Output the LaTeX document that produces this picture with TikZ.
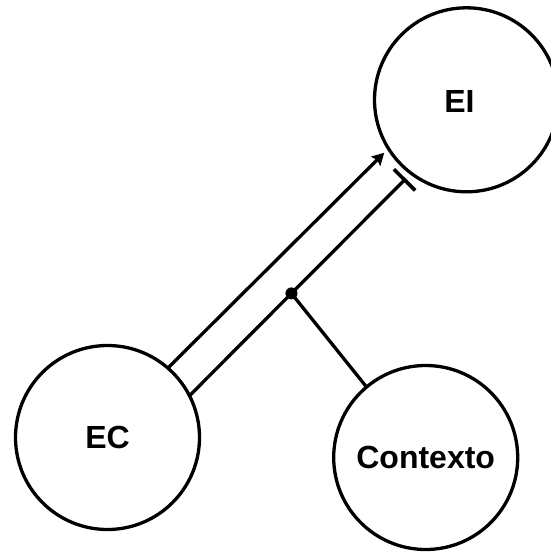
\documentclass[tikz,border=0pt]{standalone}
\usepackage{fontspec}
\setmainfont{Liberation Sans}
\usetikzlibrary{arrows.meta,calc}
\begin{document}
\begin{tikzpicture}[x=1pt,y=-1pt,
  state/.style={circle,draw=black,line width=3.3pt,minimum size=184pt,inner sep=0pt,outer sep=0pt},
  lbl/.style={font=\fontsize{32}{38}\selectfont\bfseries},
  conn/.style={line width=3.3pt,draw=black}]
\useasboundingbox (0,0) rectangle (551,554);
\node[state] (EI) at (466.5,99.8) {};
\node[lbl] (EIt) at (459.4,101.5) {EI};
\node[state,lbl] (EC) at (107.5,437.5) {EC};
\node[state,lbl] (CT) at (425.7,457.5) {Contexto};
\draw[conn,-{Stealth[length=12pt,width=13pt,inset=2pt]},shorten >=6pt] (EC.49.5) -- (EI.212.5);
\draw[conn,-{Rectangle[width=30pt,length=3.6pt]},shorten >=7.5pt] (EC.27.6) -- (EI.233.7);
\coordinate (J) at ($(EC.27.6)!0.46!(EI.233.7)$);
\draw[conn] (J) -- (CT.130.7);
\fill (J) circle (6pt);
\end{tikzpicture}
\end{document}
